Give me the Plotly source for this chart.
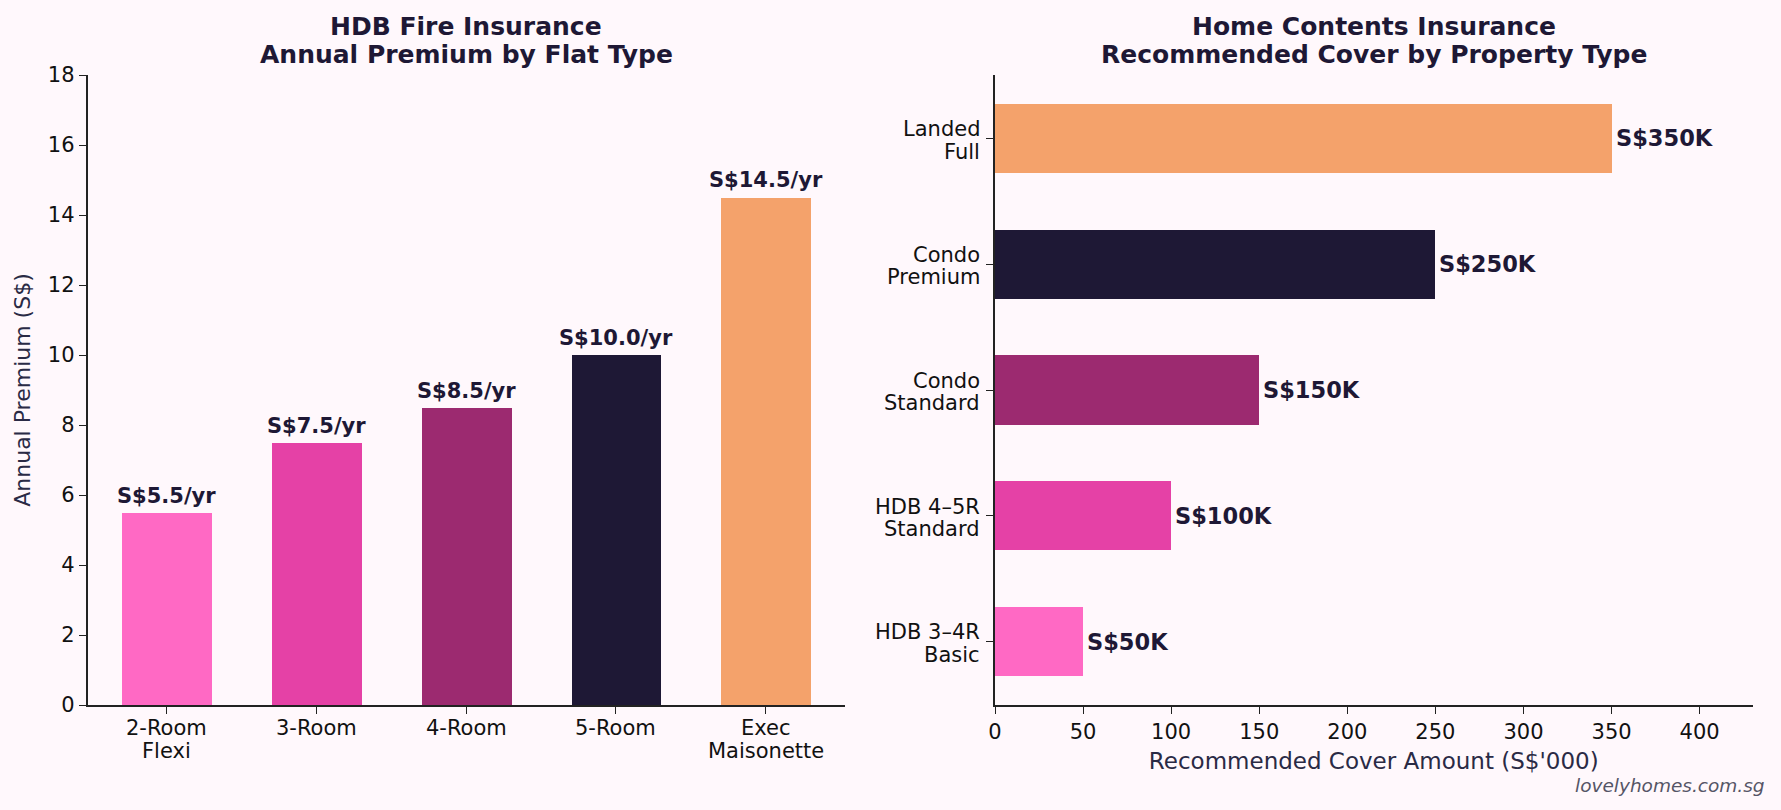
import plotly.graph_objects as go

# ---- Data ----
flat_types = ["2-Room\nFlexi", "3-Room", "4-Room", "5-Room", "Exec\nMaisonette"]
premiums = [5.5, 7.5, 8.5, 10.0, 14.5]
premium_labels = ["S$5.5/yr", "S$7.5/yr", "S$8.5/yr", "S$10.0/yr", "S$14.5/yr"]

property_types = ["HDB 3–4R\nBasic", "HDB 4–5R\nStandard", "Condo\nStandard",
                  "Condo\nPremium", "Landed\nFull"]
cover_amounts = [50, 100, 150, 250, 350]
cover_labels = ["S$50K", "S$100K", "S$150K", "S$250K", "S$350K"]

left_colors = ["#FF69C4", "#E541A6", "#9C2A70", "#1E1835", "#F4A26B"]
right_colors = ["#FF69C4", "#E541A6", "#9C2A70", "#1E1835", "#F4A26B"]

y_ticks_left = list(range(0, 19, 2))
x_ticks_right = list(range(0, 401, 50))

# ---- Style ----
FONT = "DejaVu Sans"
DARK = "#1E1835"
AXIS = "#222222"
TICK = "#111111"
BG = "#FFF8FC"
W, H = 1781, 810
TICK_SIZE = 21
LINE_GAP = 22.7

def px_x(p):
    return p / W

def px_y(p):
    return 1 - p / H

fig = go.Figure()

fig.add_trace(go.Bar(
    x=flat_types, y=premiums, width=0.6, marker=dict(color=left_colors, line=dict(width=0)),
    xaxis="x", yaxis="y", showlegend=False, hoverinfo="skip",
))
fig.add_trace(go.Bar(
    x=cover_amounts, y=property_types, orientation="h", width=0.55,
    marker=dict(color=right_colors, line=dict(width=0)),
    xaxis="x2", yaxis="y2", showlegend=False, hoverinfo="skip",
))

annotations = []
# value labels
for cat, v, lab in zip(flat_types, premiums, premium_labels):
    annotations.append(dict(x=cat, y=v, xref="x", yref="y", text="<b>%s</b>" % lab,
                            showarrow=False, yanchor="bottom", yshift=3,
                            font=dict(family=FONT, size=21, color=DARK)))
for cat, v, lab in zip(property_types, cover_amounts, cover_labels):
    annotations.append(dict(x=v, y=cat, xref="x2", yref="y2", text="<b>%s</b>" % lab,
                            showarrow=False, xanchor="left", xshift=2,
                            font=dict(family=FONT, size=22.5, color=DARK)))

# category tick labels (multi-line, matplotlib-like line spacing)
for cat in flat_types:
    for i, line in enumerate(cat.split("\n")):
        annotations.append(dict(x=cat, y=0, xref="x", yref="y", text=line,
                                showarrow=False, xanchor="center", yanchor="middle",
                                yshift=-23 - i * LINE_GAP,
                                font=dict(family=FONT, size=TICK_SIZE, color=TICK)))
for cat in property_types:
    lines = cat.split("\n")
    n = len(lines)
    for i, line in enumerate(lines):
        off = ((n - 1) / 2 - i) * LINE_GAP - 2
        annotations.append(dict(x=0, y=cat, xref="x2", yref="y2", text=line,
                                showarrow=False, xanchor="right", yanchor="middle",
                                xshift=-13, yshift=off, align="right",
                                font=dict(family=FONT, size=TICK_SIZE, color=TICK)))

titles = [
    (466, 26.5, "HDB Fire Insurance"),
    (466, 55, "Annual Premium by Flat Type"),
    (1374, 26.5, "Home Contents Insurance"),
    (1374, 55, "Recommended Cover by Property Type"),
]
for x, y, t in titles:
    annotations.append(dict(x=px_x(x), y=px_y(y), xref="paper", yref="paper",
                            text="<b>%s</b>" % t, showarrow=False,
                            xanchor="center", yanchor="middle",
                            font=dict(family=FONT, size=25, color=DARK)))

annotations.append(dict(x=px_x(1767), y=px_y(785), xref="paper", yref="paper",
                        text="<i>lovelyhomes.com.sg</i>", showarrow=False,
                        xanchor="right", yanchor="middle",
                        font=dict(family=FONT, size=18.5, color="#555566")))

axis_common = dict(showline=True, linecolor=AXIS, linewidth=1.5, ticks="outside",
                   ticklen=7, tickwidth=1.3, tickcolor=AXIS, showgrid=False,
                   zeroline=False, automargin=False,
                   tickfont=dict(family=FONT, size=TICK_SIZE, color=TICK))

fig.update_layout(
    width=W, height=H, autosize=False,
    margin=dict(l=0, r=0, t=0, b=0, pad=0, autoexpand=False),
    paper_bgcolor=BG, plot_bgcolor=BG,
    font=dict(family=FONT),
    bargap=0,
    xaxis=dict(domain=[px_x(87.5), px_x(845)], anchor="y", type="category",
               categoryorder="array", categoryarray=flat_types,
               range=[-0.53, 4.53], showticklabels=False, **axis_common),
    yaxis=dict(domain=[px_y(705), px_y(75)], anchor="x", range=[0, 18],
               tickvals=y_ticks_left,
               title=dict(text="Annual Premium (S$)", standoff=11,
                          font=dict(family=FONT, size=22, color="#2A2A45")),
               **axis_common),
    xaxis2=dict(domain=[px_x(995), px_x(1752.5)], anchor="y2", range=[0, 430],
                tickvals=x_ticks_right,
                title=dict(text="Recommended Cover Amount (S$'000)", standoff=10,
                           font=dict(family=FONT, size=23, color="#2A2A45")),
                **axis_common),
    yaxis2=dict(domain=[px_y(705), px_y(75)], anchor="x2", type="category",
                categoryorder="array", categoryarray=property_types,
                range=[-0.5025, 4.5025], showticklabels=False, **axis_common),
    annotations=annotations,
)

fig.write_html("out.html")
